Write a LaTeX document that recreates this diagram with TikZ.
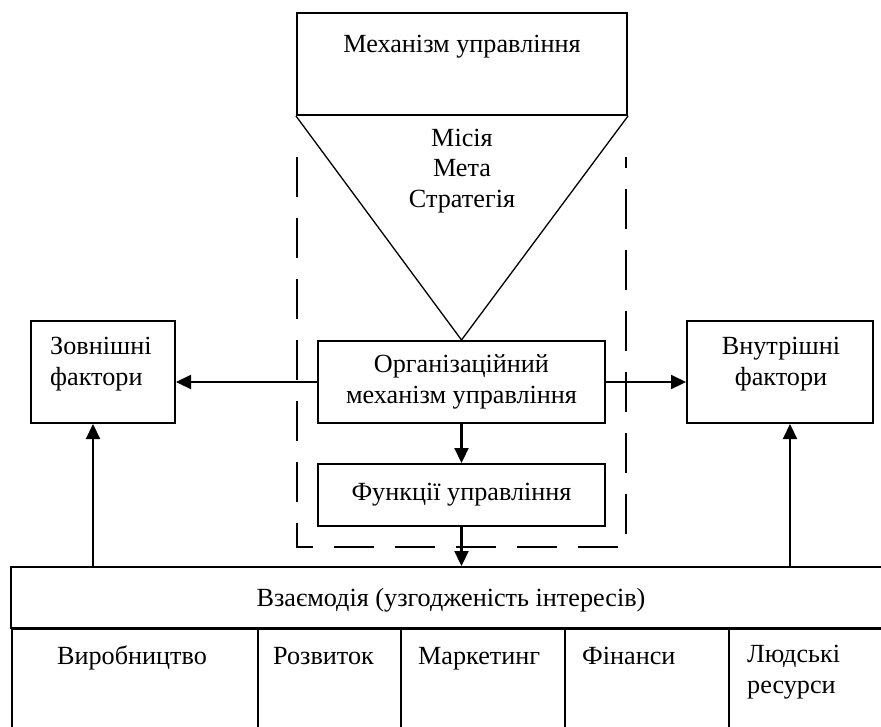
\documentclass[tikz,border=0pt]{standalone}
\usepackage{fontspec}
\setmainfont{Liberation Serif}
\usetikzlibrary{arrows.meta,calc}

\begin{document}
\begin{tikzpicture}[x=1pt,y=-1pt,
    box/.style={draw, line width=2pt, inner sep=0pt},
    arr/.style={line width=2.2pt, -{Triangle[length=15pt,width=14pt]}},
    frame/.style={line width=2pt, dash pattern=on 40pt off 21pt},
    txt/.style={font=\fontsize{26.2}{30.5}\selectfont, align=center, inner sep=0pt}]
    \useasboundingbox (0,0) rectangle (881,726);

    % Mechanism and goals
    \node[box, minimum width=330pt, minimum height=102pt] (mech) at (462,64) {};
    \node[txt, anchor=base] (mechtxt) at (462,52) {Механізм управління};
    \node[txt, anchor=base] (goals) at (462,207) {Місія\\Мета\\Стратегія};

    % Organisational frame
    \draw[frame] (297,157) -- (297,547) -- (626,547) -- (626,157);
    \node[box, txt, minimum width=287pt, minimum height=82pt] (org) at (461.5,382) {Організаційний\\механізм управління};
    \node[box, txt, minimum width=287pt, minimum height=62pt] (func) at (461.5,495) {Функції управління};
    \draw[line width=1.3pt] (mech.south west) -- (org.north) -- (mech.south east);

    % Factors
    \node[box, minimum width=144pt, minimum height=102pt] (ext) at (103,372) {};
    \node[txt, anchor=base west, align=left] (exttxt) at (50,385) {Зовнішні\\фактори};
    \node[box, minimum width=186pt, minimum height=102pt] (int) at (780,372) {};
    \node[txt, anchor=base] (inttxt) at (781,385) {Внутрішні\\фактори};

    % Interaction table
    \node[box, minimum width=880pt, minimum height=61pt] (inter) at (451,597.5) {};
    \node[txt, anchor=base] (intertxt) at (451,606) {Взаємодія (узгодженість інтересів)};
    \foreach \x/\w/\name in {11/246/prod, 257/143/dev, 400/164/mark, 564/164/fin, 728/163/hr} {
        \node[box, anchor=north west, minimum width=\w pt, minimum height=130pt] (\name) at (\x,628) {};
    }
    \node[txt, anchor=base] (prodtxt) at (132,664) {Виробництво};
    \foreach \x/\t/\name in {273/Розвиток/devtxt, 418/Маркетинг/marktxt, 582/Фінанси/fintxt} {
        \node[txt, anchor=base west] (\name) at (\x,664) {\t};
    }
    \node[txt, anchor=base west, align=left] (hrtxt) at (747,693) {Людські\\ресурси};

    % Arrows
    \coordinate (extin) at ($(ext.south)+(-10,0)$);
    \coordinate (intin) at ($(int.south)+(10,0)$);
    \draw[arr] (org.west) -- (org.west -| ext.east);
    \draw[arr] (org.east) -- (org.east -| int.west);
    \draw[arr] (org.south) -- (func.north);
    \draw[arr] (func.south) -- (func.south |- inter.north);
    \draw[arr] (extin |- inter.north) -- (extin);
    \draw[arr] (intin |- inter.north) -- (intin);
\end{tikzpicture}
\end{document}
